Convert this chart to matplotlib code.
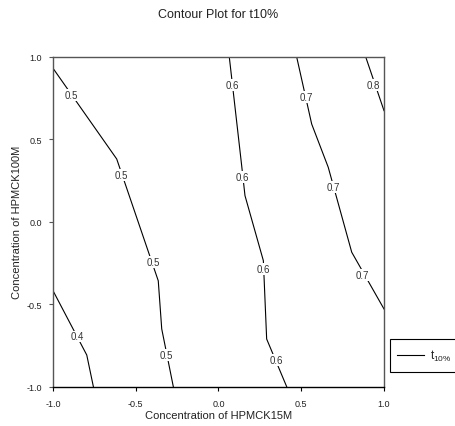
import matplotlib
matplotlib.use('Agg')
import matplotlib.pyplot as plt
from matplotlib.lines import Line2D
from matplotlib.patches import Rectangle

plt.rcParams['font.family'] = ['Liberation Sans', 'DejaVu Sans']
plt.rcParams['axes.unicode_minus'] = False
plt.rcParams['mathtext.fontset'] = 'custom'
plt.rcParams['mathtext.rm'] = 'Liberation Sans'
plt.rcParams['mathtext.it'] = 'Liberation Sans'

title = "Contour Plot for t10%"
x_label = "Concentration of HPMCK15M"
y_label = "Concentration of HPMCK100M"
ticks = [-1.0, -0.5, 0.0, 0.5, 1.0]
tick_labels = ["-1.0", "-0.5", "0.0", "0.5", "1.0"]
legend_label = r"t$\mathregular{_{10\%}}$"

# contour lines, data coordinates
level_04_x = [-1.0, -0.796, -0.756]
level_04_y = [-0.418, -0.808, -1.0]
level_05_x = [-1.0, -0.615, -0.364, -0.343, -0.273]
level_05_y = [0.93, 0.38, -0.358, -0.65, -1.0]
level_06_x = [0.065, 0.140, 0.160, 0.271, 0.291, 0.412]
level_06_y = [1.0, 0.34, 0.158, -0.236, -0.711, -1.0]
level_07_x = [0.472, 0.563, 0.663, 0.805, 1.0]
level_07_y = [1.0, 0.592, 0.33, -0.185, -0.529]
level_08_x = [0.889, 1.0]
level_08_y = [1.0, 0.673]

# contour labels
label_values = ["0.5", "0.5", "0.5", "0.5", "0.4",
                "0.6", "0.6", "0.6", "0.6",
                "0.7", "0.7", "0.7", "0.8"]
label_x = [-0.887, -0.585, -0.394, -0.313, -0.851,
           0.083, 0.146, 0.271, 0.347,
           0.529, 0.694, 0.871, 0.935]
label_y = [0.768, 0.285, -0.246, -0.808, -0.695,
           0.830, 0.269, -0.287, -0.838,
           0.758, 0.212, -0.321, 0.830]

W, H = 456, 427
fig = plt.figure(figsize=(W / 100, H / 100), dpi=100)
ax = fig.add_axes([53 / W, 1 - 387.7 / H, 331 / W, 330 / H])

for xs, ys in [(level_04_x, level_04_y), (level_05_x, level_05_y),
               (level_06_x, level_06_y), (level_07_x, level_07_y),
               (level_08_x, level_08_y)]:
    ax.plot(xs, ys, color='black', lw=0.8, zorder=2)

for t, x, y in zip(label_values, label_x, label_y):
    ax.text(x, y, t, fontsize=7, color='#333333', ha='center', va='center',
            zorder=3, bbox=dict(facecolor='white', edgecolor='none', pad=0.6))

ax.set_xlim(-1, 1)
ax.set_ylim(-1, 1)
ax.set_xticks(ticks)
ax.set_xticklabels(tick_labels)
ax.set_yticks(ticks)
ax.set_yticklabels(tick_labels)
spine_color = '#555555'
for s in ax.spines.values():
    s.set_color(spine_color)
    s.set_linewidth(1.0)
ax.spines['bottom'].set_color('black')
ax.tick_params(direction='out', length=3, width=0.8, color=spine_color,
               labelsize=6.5, labelcolor='#222222')
ax.tick_params(axis='x', pad=6, color='black')
ax.tick_params(axis='y', pad=5)

fig.text(218.5 / W, 1 - 15 / H, title, ha='center', va='center', fontsize=9,
         color='#222222')
fig.text(218.5 / W, 1 - 416 / H, x_label, ha='center', va='center', fontsize=8,
         color='#222222')
fig.text(17 / W, 1 - 222 / H, y_label, ha='center', va='center', fontsize=8,
         rotation=90, color='#222222')

# legend box
fig.add_artist(Rectangle((390 / W, 1 - 373 / H), 80 / W, 33 / H,
                         transform=fig.transFigure, facecolor='white',
                         edgecolor='black', lw=0.8, clip_on=False))
fig.add_artist(Line2D([396.7 / W, 424 / W], [1 - 356 / H, 1 - 356 / H],
                      transform=fig.transFigure, color='black', lw=0.8))
fig.text(430 / W, 1 - 356 / H, legend_label, ha='left', va='center',
         fontsize=8.5, color='#222222')

fig.savefig('out.png', dpi=100)
